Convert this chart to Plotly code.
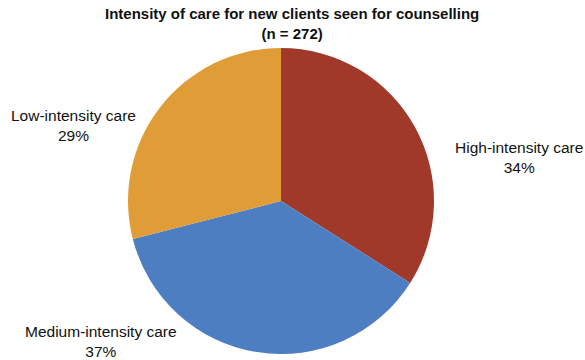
import plotly.graph_objects as go

categories = ["High-intensity care", "Medium-intensity care", "Low-intensity care"]
percentages = [34, 37, 29]
colors = ["#A1392B", "#4E7EC2", "#E09D37"]

label_pos = {
    "High-intensity care": (519, 157),
    "Medium-intensity care": (101, 341),
    "Low-intensity care": (73, 125),
}

W, H = 585, 360
fig = go.Figure(go.Pie(
    labels=categories,
    values=percentages,
    sort=False,
    direction="clockwise",
    rotation=0,
    marker=dict(colors=colors, line=dict(width=0)),
    textinfo="none",
    hoverinfo="label+percent",
    domain=dict(x=[(281 - 153) / W, (281 + 153) / W], y=[(360 - 354) / H, (360 - 48) / H]),
    showlegend=False,
))

for cat, pct in zip(categories, percentages):
    px, py = label_pos[cat]
    fig.add_annotation(
        x=px / W, y=1 - py / H, xref="paper", yref="paper",
        text=f"{cat}<br>{pct}%", showarrow=False,
        font=dict(family="Liberation Sans, Arial", size=15.5, color="#111111"),
        align="center", xanchor="center", yanchor="middle",
    )

fig.add_annotation(
    x=292 / W, y=1 - 24 / H, xref="paper", yref="paper",
    text="<b>Intensity of care for new clients seen for counselling<br>(n = 272)</b>",
    showarrow=False, align="center", xanchor="center", yanchor="middle",
    font=dict(family="Liberation Sans, Arial", size=15, color="#111111"),
)

fig.update_layout(
    width=W, height=H,
    margin=dict(l=0, r=0, t=0, b=0),
    paper_bgcolor="white", plot_bgcolor="white",
)
fig.write_html("out.html")
